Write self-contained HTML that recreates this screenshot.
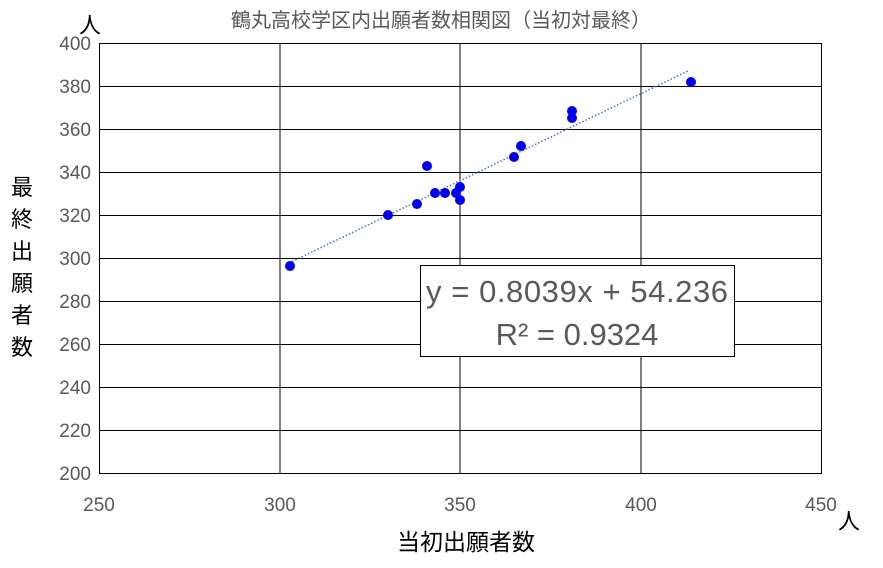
<!DOCTYPE html>
<html><head><meta charset="utf-8"><style>
body{margin:0;background:#fff;}
text{font-family:"Liberation Sans","Noto Sans CJK JP",sans-serif;}
</style></head><body>
<svg width="883" height="563" xmlns="http://www.w3.org/2000/svg">
<rect width="883" height="563" fill="#fff"/>
<text x="441" y="27" font-size="20" fill="#595959" text-anchor="middle">鶴丸高校学区内出願者数相関図（当初対最終）</text>
<g stroke="#000" stroke-width="1">
<rect x="99.5" y="43.5" width="722" height="430" fill="none"/>
<line x1="280" y1="43" x2="280" y2="473"/>
<line x1="460" y1="43" x2="460" y2="473"/>
<line x1="641" y1="43" x2="641" y2="473"/>
<line x1="99" y1="86.5" x2="821" y2="86.5"/>
<line x1="99" y1="129.5" x2="821" y2="129.5"/>
<line x1="99" y1="172.5" x2="821" y2="172.5"/>
<line x1="99" y1="215.5" x2="821" y2="215.5"/>
<line x1="99" y1="258.5" x2="821" y2="258.5"/>
<line x1="99" y1="301.5" x2="821" y2="301.5"/>
<line x1="99" y1="344.5" x2="821" y2="344.5"/>
<line x1="99" y1="387.5" x2="821" y2="387.5"/>
<line x1="99" y1="430.5" x2="821" y2="430.5"/>
</g>
<g font-size="19" fill="#595959" text-anchor="end">
<text x="91" y="50">400</text><text x="91" y="93">380</text><text x="91" y="136">360</text>
<text x="91" y="179">340</text><text x="91" y="222">320</text><text x="91" y="265">300</text>
<text x="91" y="308">280</text><text x="91" y="351">260</text><text x="91" y="394">240</text>
<text x="91" y="437">220</text><text x="91" y="480">200</text>
</g>
<g font-size="19" fill="#595959" text-anchor="middle">
<text x="99" y="511">250</text><text x="280" y="511">300</text><text x="460" y="511">350</text>
<text x="641" y="511">400</text><text x="821" y="511">450</text>
</g>
<text x="79" y="33" font-size="22" fill="#000">人</text>
<text x="838" y="529" font-size="22" fill="#000">人</text>
<text x="466" y="550" font-size="23" fill="#000" text-anchor="middle">当初出願者数</text>
<g font-size="22" fill="#000" text-anchor="middle">
<text x="22" y="195">最</text><text x="22" y="227">終</text><text x="22" y="259">出</text>
<text x="22" y="291">願</text><text x="22" y="323">者</text><text x="22" y="355">数</text>
</g>
<line x1="289" y1="263" x2="688" y2="71" stroke="#4472c4" stroke-width="1.5" stroke-dasharray="1.5,2"/>
<g fill="#0000ee">
<circle cx="290" cy="266" r="5"/><circle cx="388" cy="215" r="5"/><circle cx="417" cy="204" r="5"/>
<circle cx="427" cy="166" r="5"/><circle cx="435" cy="193" r="5"/><circle cx="445" cy="193" r="5"/>
<circle cx="456" cy="193" r="5"/><circle cx="460" cy="187" r="5"/><circle cx="460" cy="200" r="5"/>
<circle cx="514" cy="157" r="5"/><circle cx="521" cy="146" r="5"/><circle cx="572" cy="111" r="5"/>
<circle cx="572" cy="118" r="5"/><circle cx="691" cy="82" r="5"/>
</g>
<rect x="420.5" y="265.5" width="314" height="91" fill="#fff" stroke="#000"/>
<text x="577" y="302" font-size="31" fill="#595959" text-anchor="middle" textLength="302">y = 0.8039x + 54.236</text>
<text x="577" y="345" font-size="31" fill="#595959" text-anchor="middle">R² = 0.9324</text>
</svg>
</body></html>
